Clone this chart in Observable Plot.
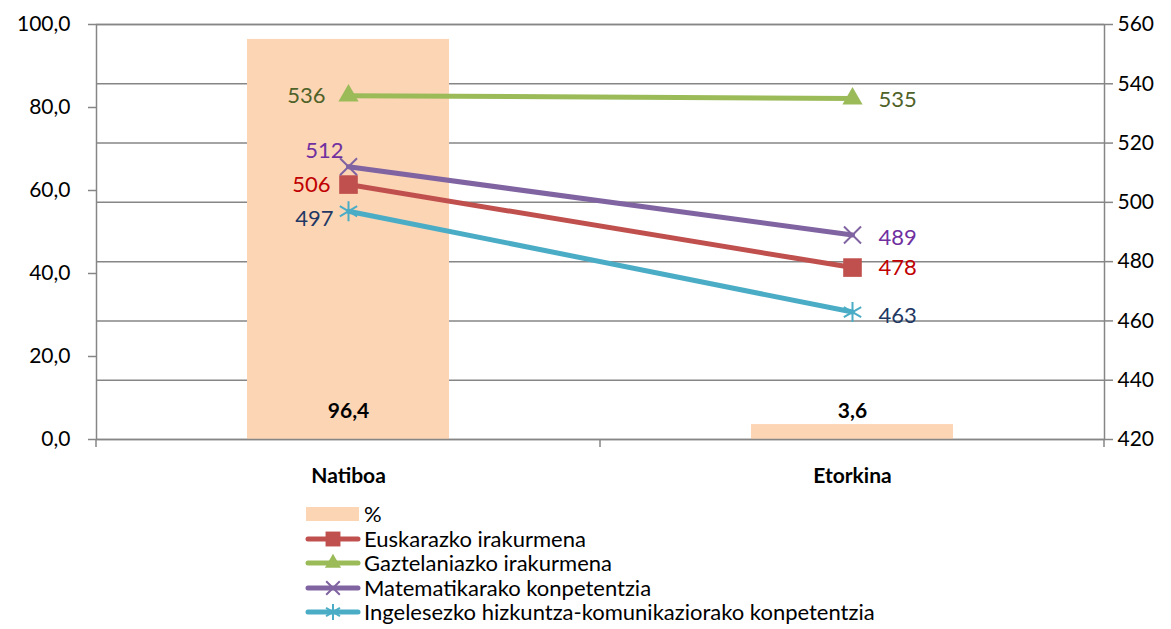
<!DOCTYPE html>
<html><head><meta charset="utf-8">
<script src="https://cdn.jsdelivr.net/npm/d3@7"></script>
<script src="https://cdn.jsdelivr.net/npm/@observablehq/plot@0.6"></script>
<style>
body{margin:0;background:#fff;font-family:Lato,"Open Sans",sans-serif;}
#legend{margin-left:305px;margin-top:7px;font-size:22px;line-height:24.5px;color:#000}
.row{display:flex;align-items:center;height:24.5px;white-space:nowrap}
.row svg{margin-right:3px;flex:none}
</style></head><body><div id="chart"></div><div id="legend"></div>
<script>
// ---- data ----
const categories = ["Natiboa", "Etorkina"];
const pct = [96.4, 3.6];
const pctName = "%";
const seriesNames = ["Euskarazko irakurmena", "Gaztelaniazko irakurmena", "Matematikarako konpetentzia", "Ingelesezko hizkuntza-komunikaziorako konpetentzia"];
const euskara = [506, 478];
const gaztelania = [536, 535];
const matematika = [512, 489];
const ingelesa = [497, 463];
const leftTicks = [0, 20, 40, 60, 80, 100];
const rightTicks = [420, 440, 460, 480, 500, 520, 540, 560];

// ---- styles ----
const lineColors = ["#C0504D", "#9BBB59", "#8064A2", "#4BACC6"];
const labelColors = ["#C00000", "#4F6228", "#7030A0", "#1F3864"];
const symbols = ["square", "triangle", "times", "asterisk"];
const symbolR = [10.5, 7.5, 7.8, 9.5];
const filled = [true, true, false, false];
// label offsets [series][category] -> [dx, dy]
const labelOff = [
  [[-18, 0], [26, 0]],
  [[-23, 0], [26, 1]],
  [[-5, -16], [26, 3]],
  [[-15, 8], [26, 4]]
];
const barFill = "#FCD5B5";
const gray = "#868686";
const fs = 21;
const lfs = 22;

const rMin = rightTicks[0], rMax = rightTicks[rightTicks.length - 1];
const toLeft = v => (v - rMin) / (rMax - rMin) * 100;
const comma1 = v => v.toFixed(1).replace(".", ",");

const bars = categories.map((c, i) => ({cat: c, pct: pct[i]}));
const seriesValues = [euskara, gaztelania, matematika, ingelesa];
const long = [];
seriesValues.forEach((vals, s) => vals.forEach((v, i) => long.push({s, series: seriesNames[s], cat: categories[i], ci: i, value: v})));

function xBoundaryTicks(index, scales, values, dims) {
  const x = scales.x;
  const n = categories.length;
  const left = dims.marginLeft, right = dims.width - dims.marginRight;
  const bw = x.bandwidth ? x.bandwidth() : (right - left) / n;
  const xs = categories.map(c => x(c)).concat([x(categories[n - 1]) + bw]);
  const yb = dims.height - dims.marginBottom;
  const g = d3.create("svg:g").attr("stroke", gray).attr("stroke-width", 1.5);
  xs.forEach(xx => g.append("line").attr("x1", xx).attr("x2", xx).attr("y1", yb).attr("y2", yb + 8));
  return g.node();
}

const marks = [
  Plot.gridY(rightTicks.map(toLeft), {stroke: gray, strokeOpacity: 1, strokeWidth: 1.5}),
  Plot.barY(bars, {x: "cat", y: "pct", fill: barFill, insetLeft: 151, insetRight: 151}),
  Plot.frame({stroke: gray, strokeWidth: 1.5}),
  xBoundaryTicks,
  Plot.axisY(leftTicks, {anchor: "left", label: null, tickSize: 8, tickPadding: 18, tickFormat: comma1, fontSize: fs, stroke: gray, strokeWidth: 1.5, fill: "#000"}),
  Plot.axisY(rightTicks.map(toLeft), {anchor: "right", label: null, tickSize: 8, tickPadding: 5, tickFormat: d => String(Math.round(d / 100 * (rMax - rMin) + rMin)), fontSize: fs, stroke: gray, strokeWidth: 1.5, fill: "#000"}),
  Plot.axisX({label: null, tickSize: 0, tickPadding: 29, fontSize: fs, fontWeight: "bold", fill: "#000"}),
  Plot.text(bars, {x: "cat", y: 0, text: d => comma1(d.pct), dy: -28, fontSize: fs, fontWeight: "bold", fill: "#000"}),
  Plot.line(long, {x: "cat", y: d => toLeft(d.value), z: "series", stroke: d => lineColors[d.s], strokeWidth: 5, strokeLinecap: "round", strokeLinejoin: "round"})
];
seriesNames.forEach((name, s) => {
  const data = long.filter(d => d.s === s);
  marks.push(Plot.dot(data, {
    x: "cat", y: d => toLeft(d.value), symbol: () => symbols[s], r: symbolR[s],
    fill: filled[s] ? lineColors[s] : "none", stroke: lineColors[s], strokeWidth: filled[s] ? 0 : 2
  }));
  data.forEach(d => {
    const [dx, dy] = labelOff[s][d.ci];
    marks.push(Plot.text([d], {
      x: "cat", y: dd => toLeft(dd.value), text: dd => String(dd.value), dx, dy,
      textAnchor: d.ci === 0 ? "end" : "start", fontSize: lfs, fill: labelColors[s]
    }));
  });
});

const chart = Plot.plot({
  width: 1171, height: 495,
  marginLeft: 96, marginRight: 67, marginTop: 24, marginBottom: 56,
  style: {fontFamily: "Lato, 'Open Sans', sans-serif", fontSize: fs + "px", background: "#fff", overflow: "visible"},
  x: {type: "band", domain: categories, padding: 0, axis: null, label: null},
  y: {domain: [0, 100], axis: null, label: null},
  symbol: {type: "identity"},
  marks
});
document.getElementById("chart").append(chart);

// ---- legend ----
const legend = d3.select("#legend");
const r0 = legend.append("div").attr("class", "row");
const sw0 = r0.append("svg").attr("width", 56).attr("height", 24);
sw0.append("rect").attr("x", 1).attr("y", 5).attr("width", 53).attr("height", 14).attr("fill", barFill);
r0.append("span").text(pctName);
const symMap = {square: d3.symbolSquare, triangle: d3.symbolTriangle, times: d3.symbolTimes || d3.symbolCross, asterisk: d3.symbolAsterisk || d3.symbolStar};
seriesNames.forEach((name, s) => {
  const row = legend.append("div").attr("class", "row");
  const sw = row.append("svg").attr("width", 56).attr("height", 24);
  sw.append("line").attr("x1", 3).attr("x2", 53).attr("y1", 12).attr("y2", 12).attr("stroke", lineColors[s]).attr("stroke-width", 5).attr("stroke-linecap", "round");
  const sz = Math.PI * (symbolR[s] * 0.8) ** 2;
  sw.append("path").attr("transform", "translate(28,12)")
    .attr("d", d3.symbol(symMap[symbols[s]], sz)())
    .attr("fill", filled[s] ? lineColors[s] : "none").attr("stroke", filled[s] ? "none" : lineColors[s]).attr("stroke-width", 2);
  row.append("span").text(name);
});
</script></body></html>
